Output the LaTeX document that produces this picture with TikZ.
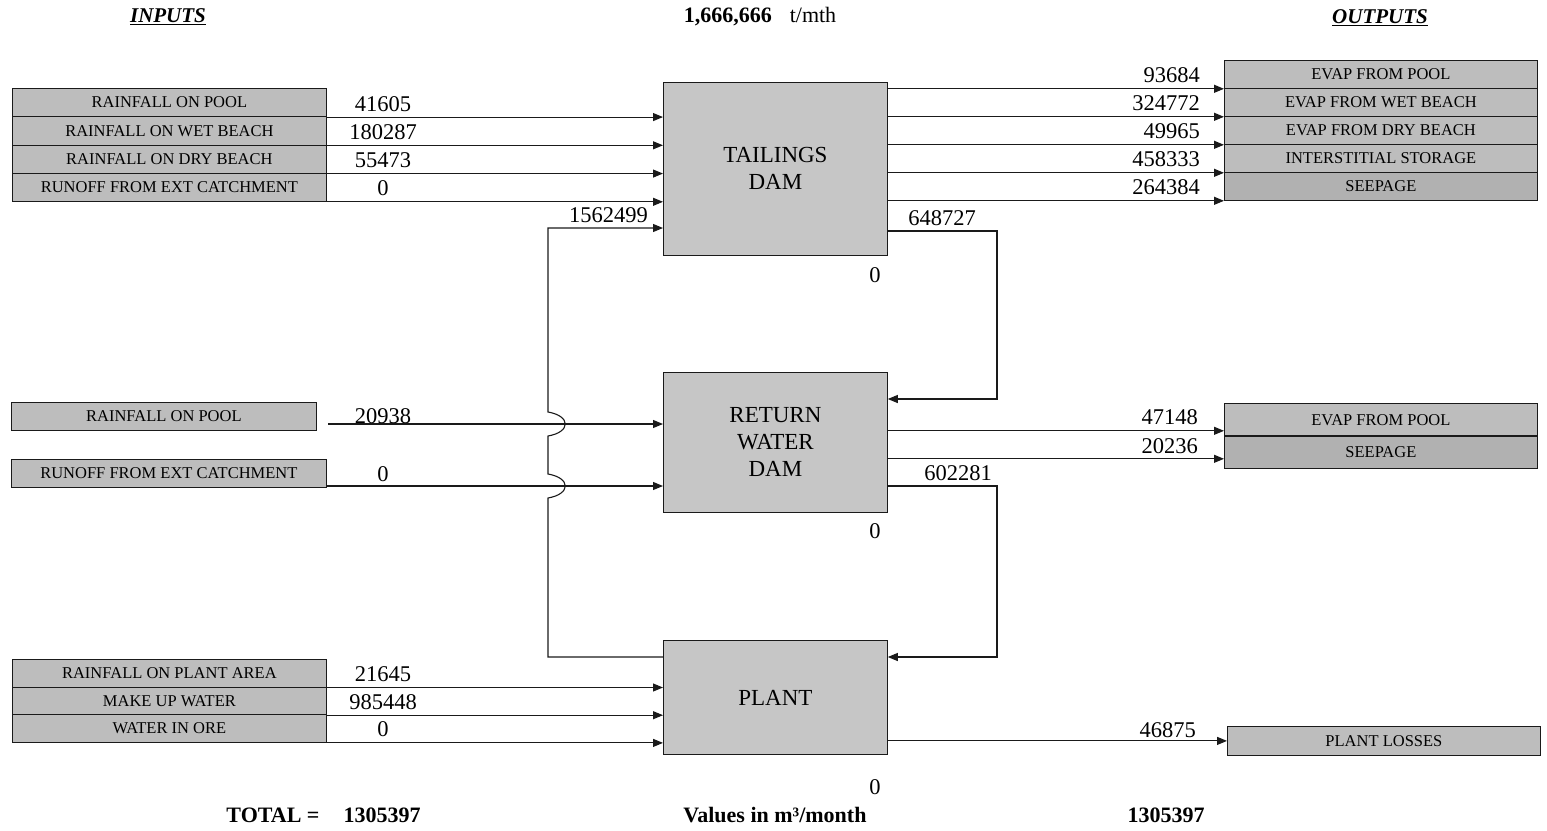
\documentclass[tikz,border=0pt]{standalone}
\usepackage{fontspec}
\setmainfont{Liberation Serif}
\usepackage{tikz}
\usetikzlibrary{arrows.meta,positioning}
\definecolor{Cell}{HTML}{BDBDBD}
\definecolor{Unit}{HTML}{C6C6C6}
\definecolor{Seep}{HTML}{B1B1B1}
\definecolor{Ink}{HTML}{1A1A1A}
\tikzset{
  cell/.style={draw=Ink,fill=Cell,line width=0.8pt,inner sep=0pt,minimum width=314pt,anchor=north west,font=\fontsize{16.5}{16.5}\selectfont},
  unit/.style={draw=Ink,fill=Unit,line width=0.8pt,minimum width=224pt,anchor=north west,align=center,font=\fontsize{23}{27}\selectfont},
  num/.style={font=\fontsize{22.5}{22.5}\selectfont,inner sep=0pt},
  bold/.style={font=\fontsize{22}{22}\selectfont\bfseries,inner sep=0pt},
  flow/.style={draw=Ink,line width=1.1pt,-{Triangle[length=10pt,width=8pt]}},
}
\begin{document}
\begin{tikzpicture}[x=1pt,y=-1pt]
  \useasboundingbox (0,0) rectangle (1547,830);
  \node[bold,font=\fontsize{21}{21}\selectfont\bfseries\itshape] (inhead) at (168,17) {\underline{INPUTS}};
  \node[bold,font=\fontsize{21}{21}\selectfont\bfseries\itshape] (outhead) at (1380,18) {\underline{OUTPUTS}};
  \node[bold] (rate) at (760,17) {1,666,666\hspace{18pt}\mdseries t/mth};
  \node[unit,minimum height=173pt] (tdam) at (663,82) {TAILINGS\\DAM};
  \node[unit,minimum height=140pt] (rwd) at (663,372) {RETURN\\WATER\\DAM};
  \node[unit,minimum height=114pt] (plant) at (663,640) {PLANT};
  \foreach \i/\lab/\v in {1/RAINFALL ON POOL/41605, 2/RAINFALL ON WET BEACH/180287,
      3/RAINFALL ON DRY BEACH/55473, 4/RUNOFF FROM EXT CATCHMENT/0} {
    \node[cell,minimum height=28.25pt] (tin\i) at (12,{88+28.25*(\i-1)}) {\lab};
    \draw[flow] (tin\i.south east) -- (tin\i.south east -| tdam.west);
    \node[num,anchor=base,yshift=6pt] (tinv\i) at (383,0 |- tin\i.south east) {\v};
  }
  \foreach \i/\lab/\v/\c in {1/EVAP FROM POOL/93684/Cell, 2/EVAP FROM WET BEACH/324772/Cell,
      3/EVAP FROM DRY BEACH/49965/Cell, 4/INTERSTITIAL STORAGE/458333/Cell, 5/SEEPAGE/264384/Seep} {
    \node[cell,fill=\c,minimum width=313pt,minimum height=28pt] (tout\i) at (1224,{60+28*(\i-1)}) {\lab};
    \draw[flow] (tdam.east |- tout\i.south west) -- (tout\i.south west);
    \node[num,anchor=base east,yshift=6pt] (toutv\i) at (1200,0 |- tout\i.south west) {\v};
  }
  \node[cell,minimum width=305pt,minimum height=28pt] (rin1) at (11,402) {RAINFALL ON POOL};
  \node[cell,minimum width=315pt,minimum height=28pt] (rin2) at (11,459) {RUNOFF FROM EXT CATCHMENT};
  \coordinate (rin1s) at (328,424);
  \coordinate (rin2s) at (326,486);
  \draw[flow] (rin1s) -- (rin1s -| rwd.west);
  \draw[flow] (rin2s) -- (rin2s -| rwd.west);
  \node[num,anchor=base,yshift=1pt] (rinv1) at (383,0 |- rin1s) {20938};
  \node[num,anchor=base,yshift=5pt] (rinv2) at (383,0 |- rin2s) {0};
  \node[cell,minimum width=313pt,minimum height=33pt] (rout1) at (1224,403) {EVAP FROM POOL};
  \node[cell,fill=Seep,minimum width=313pt,minimum height=32pt] (rout2) at (1224,436) {SEEPAGE};
  \draw[Ink,line width=2pt] (rout2.north west) -- (rout2.north east);
  \coordinate (ro1) at ([yshift=6pt]rout1.south west);
  \coordinate (ro2) at ([yshift=10pt]rout2.south west);
  \draw[flow] (rwd.east |- ro1) -- (ro1);
  \draw[flow] (rwd.east |- ro2) -- (ro2);
  \node[num,anchor=base east,yshift=6pt] (routv1) at (1198,0 |- ro1) {47148};
  \node[num,anchor=base east,yshift=5pt] (routv2) at (1198,0 |- ro2) {20236};
  \foreach \i/\lab/\v in {1/RAINFALL ON PLANT AREA/21645, 2/MAKE UP WATER/985448, 3/WATER IN ORE/0} {
    \node[cell,minimum height=27.7pt] (pin\i) at (12,{659+27.7*(\i-1)}) {\lab};
    \draw[flow] (pin\i.south east) -- (pin\i.south east -| plant.west);
    \node[num,anchor=base,yshift=6pt] (pinv\i) at (383,0 |- pin\i.south east) {\v};
  }
  \node[cell,minimum width=313pt,minimum height=29pt] (ploss) at (1227,726) {PLANT LOSSES};
  \draw[flow] (plant.east |- ploss.west) -- (ploss.west);
  \node[num,anchor=base east,yshift=3pt] (plossv) at (1196,0 |- ploss.west) {46875};
  \coordinate (td1) at (997,231);
  \coordinate (td2) at (997,399);
  \draw[flow] (tdam.east |- td1) -- (td1) -- (td2) -- (td2 -| rwd.east);
  \node[num,anchor=base,yshift=6pt] (tdv) at (942,0 |- td1) {648727};
  \coordinate (rw1) at (997,486);
  \coordinate (rw2) at (997,657);
  \draw[flow] (rwd.east |- rw1) -- (rw1) -- (rw2) -- (rw2 -| plant.east);
  \node[num,anchor=base,yshift=6pt] (rwv) at (958,0 |- rw1) {602281};
  \coordinate (pl1) at (548,657);
  \coordinate (pl2) at (548,228);
  \draw[flow] (plant.west |- pl1) -- (pl1) -- (548,498) .. controls (571,494) and (571,478) .. (548,474)
    -- (548,436) .. controls (571,432) and (571,416) .. (548,412) -- (pl2) -- (pl2 -| tdam.west);
  \node[num,anchor=base east,yshift=6pt] (plv) at (648,0 |- pl2) {1562499};
  \node[num] (tdz) at (875,275) {0};
  \node[num] (rwz) at (875,531) {0};
  \node[num] (plz) at (875,787) {0};
  \node[bold] (totlab) at (273,815) {TOTAL =};
  \node[bold] (totin) at (382,815) {1305397};
  \node[bold] (units) at (775,815) {Values in m³/month};
  \node[bold] (totout) at (1166,815) {1305397};
\end{tikzpicture}
\end{document}
